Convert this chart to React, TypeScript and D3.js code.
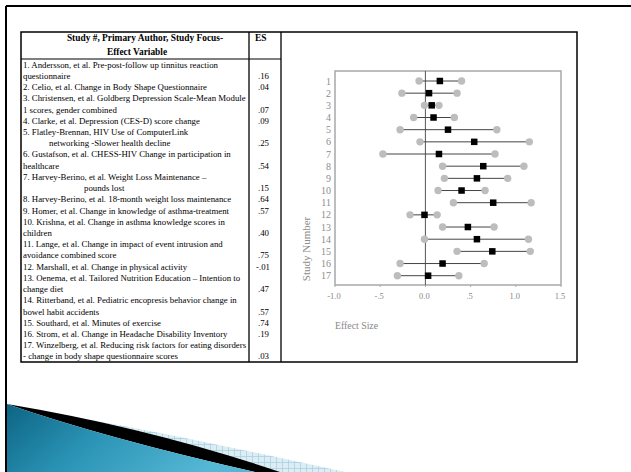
import React from "react";
import * as d3 from "d3";

// ---------- DATA ----------
const studyNumbers = ["1","2","3","4","5","6","7","8","9","10","11","12","13","14","15","16","17"];
const effectSizes = [0.16, 0.04, 0.07, 0.09, 0.25, 0.54, 0.15, 0.64, 0.57, 0.40, 0.75, -0.01, 0.47, 0.57, 0.74, 0.19, 0.03];
const ciLower = [-0.07, -0.26, -0.01, -0.13, -0.28, -0.06, -0.47, 0.19, 0.21, 0.14, 0.31, -0.17, 0.19, -0.01, 0.35, -0.28, -0.31];
const ciUpper = [0.40, 0.35, 0.15, 0.32, 0.79, 1.15, 0.77, 1.09, 0.91, 0.66, 1.17, 0.13, 0.76, 1.14, 1.16, 0.65, 0.37];
const esLabels = [".16", ".04", ".07", ".09", ".25", ".54", ".15", ".64", ".57", ".40", ".75", "-.01", ".47", ".57", ".74", ".19", ".03"];
// "\t" prefix marks an indented continuation line
const studyLines: string[][] = [
  ["1. Andersson, et al. Pre-post-follow up tinnitus reaction", "questionnaire"],
  ["2. Celio, et al. Change in Body Shape Questionnaire"],
  ["3. Christensen, et al. Goldberg Depression Scale-Mean Module", "1 scores, gender combined"],
  ["4. Clarke, et al. Depression (CES-D) score change"],
  ["5. Flatley-Brennan, HIV Use of ComputerLink", "\tnetworking -Slower health decline"],
  ["6. Gustafson, et al. CHESS-HIV Change in participation in", "healthcare"],
  ["7. Harvey-Berino, et al. Weight Loss Maintenance –", "\t\tpounds lost"],
  ["8. Harvey-Berino, et al. 18-month weight loss maintenance"],
  ["9. Homer, et al. Change in knowledge of asthma-treatment"],
  ["10. Krishna, et al. Change in asthma knowledge scores in", "children"],
  ["11. Lange, et al. Change in impact of event intrusion and", "avoidance combined score"],
  ["12. Marshall, et al. Change in physical activity"],
  ["13. Oenema, et al. Tailored Nutrition Education – Intention to", "change diet"],
  ["14. Ritterband, et al. Pediatric encopresis behavior change in", "bowel habit accidents"],
  ["15. Southard, et al. Minutes of exercise"],
  ["16. Strom, et al. Change in Headache Disability Inventory"],
  ["17. Winzelberg, et al. Reducing risk factors for eating disorders", "- change in body shape questionnaire scores"],
];
const headerLines = ["Study #, Primary Author, Study Focus-", "Effect Variable"];
const esHeader = "ES";
const xTickValues = [-1, -0.5, 0, 0.5, 1, 1.5];
const xTickLabels = ["-1.0", "-.5", "0.0", ".5", "1.0", "1.5"];
const yAxisTitle = "Study Number";
const xAxisTitle = "Effect Size";

// ---------- LAYOUT ----------
const W = 631, H = 472;
const serif = "'Liberation Serif', 'DejaVu Serif', serif";

export default function App() {
  const x = d3.scaleLinear().domain([-1, 1.5]).range([335, 561]);
  const y = d3.scalePoint<string>().domain(studyNumbers).range([81, 275.7]);

  const tableL = 21, tableR = 577, tableT = 32, tableB = 362;
  const div1 = 249, div2 = 281, headB = 59;
  const totalLines = studyLines.reduce((s, l) => s + l.length, 0);
  const lineH = (tableB - headB) / totalLines;

  const bodyText: JSX.Element[] = [];
  const esText: JSX.Element[] = [];
  let li = 0;
  studyLines.forEach((lines, si) => {
    lines.forEach((ln, k) => {
      const m = ln.match(/^\t*/);
      const lvl = m ? m[0].length : 0;
      const txt = ln.replace(/^\t*/, "");
      const indent = lvl === 1 ? 26 : lvl === 2 ? 61 : 0;
      const cy = headB + lineH * (li + 0.5);
      bodyText.push(
        <text key={`b${li}`} x={23 + indent} y={cy + 3} fontSize={8.8}>{txt}</text>
      );
      if (k === lines.length - 1) {
        esText.push(
          <text key={`e${si}`} x={esLabels[si].startsWith("-") ? 256 : 258} y={cy + 3} fontSize={8.8}>{esLabels[si]}</text>
        );
      }
      li++;
    });
  });

  const [x0, x1] = x.range();
  const frameT = 71, frameB = 285;

  return (
    <div style={{ position: "fixed", left: 0, top: 0 }}>
      <svg width={W} height={H} viewBox={`0 0 ${W} ${H}`} style={{ display: "block", background: "#fff" }}>
        <defs>
          <linearGradient id="blueGrad" x1="0" y1="0" x2="1" y2="0.3">
            <stop offset="0" stopColor="#0d6483" />
            <stop offset="0.45" stopColor="#2a93b5" />
            <stop offset="1" stopColor="#55b7d5" />
          </linearGradient>
          <pattern id="hatch" width="6" height="6" patternUnits="userSpaceOnUse">
            <rect width="6" height="6" fill="#dcedf4" />
            <path d="M0 0.5H6M0.5 0V6" stroke="#a9d0e2" strokeWidth="0.8" />
          </pattern>
        </defs>

        {/* slide frame */}
        <line x1={6} y1={6} x2={W} y2={6} stroke="#000" strokeWidth={2} />
        <line x1={6} y1={6} x2={6} y2={H} stroke="#000" strokeWidth={2} />

        {/* bottom-left swoosh */}
        <path d={`M20 407 Q 175 434 345 472 L 270 472 Q 150 434 20 407 Z`} fill="url(#hatch)" />
        <path d={`M7 404 Q 150 428 280 472 L 255 472 Q 105 438 7 404 Z`} fill="#000" />
        <path d={`M7 404 Q 105 438 255 472 L 7 472 Z`} fill="url(#blueGrad)" />

        {/* table frame */}
        <rect x={tableL} y={tableT} width={tableR - tableL} height={tableB - tableT} fill="none" stroke="#000" strokeWidth={1.5} />
        <line x1={div1} y1={tableT} x2={div1} y2={tableB} stroke="#000" strokeWidth={1.3} />
        <line x1={div2} y1={tableT} x2={div2} y2={tableB} stroke="#000" strokeWidth={1.3} />
        <line x1={tableL} y1={headB} x2={div2} y2={headB} stroke="#000" strokeWidth={1.2} />

        <g fontFamily={serif} fill="#000">
          <text x={145} y={41} fontSize={9.4} fontWeight="bold" textAnchor="middle">{headerLines[0]}</text>
          <text x={137} y={54.5} fontSize={9.4} fontWeight="bold" textAnchor="middle">{headerLines[1]}</text>
          <text x={255} y={41} fontSize={9.4} fontWeight="bold">{esHeader}</text>
          {bodyText}
          {esText}
        </g>

        {/* forest plot */}
        <rect x={x0} y={frameT} width={x1 - x0} height={frameB - frameT} fill="none" stroke="#a8a8a8" strokeWidth={1.5} />
        <line x1={x(0)} y1={frameT} x2={x(0)} y2={frameB} stroke="#555" strokeWidth={1} />
        {xTickValues.map((v, i) => (
          <g key={`t${i}`}>
            <line x1={x(v)} y1={frameB} x2={x(v)} y2={frameB + 2} stroke="#a8a8a8" strokeWidth={1} />
            <text x={x(v) - 1} y={299} fontSize={8.5} fill="#888" fontFamily={serif} textAnchor="middle">{xTickLabels[i]}</text>
          </g>
        ))}
        {studyNumbers.map((s, i) => {
          const cy = y(s) as number;
          return (
            <g key={`r${i}`}>
              <text x={331} y={cy + 3.5} fontSize={10} fill="#8c8c8c" fontFamily={serif} textAnchor="end">{s}</text>
              <line x1={x(ciLower[i])} y1={cy} x2={x(ciUpper[i])} y2={cy} stroke="#444" strokeWidth={1} />
              <circle cx={x(ciLower[i])} cy={cy} r={3.7} fill="#bdbdbd" />
              <circle cx={x(ciUpper[i])} cy={cy} r={3.7} fill="#bdbdbd" />
              <rect x={x(effectSizes[i]) - 3.25} y={cy - 3.25} width={6.5} height={6.5} fill="#000" />
            </g>
          );
        })}
        <text transform="translate(310,249) rotate(-90)" fontSize={11} fill="#8c8c8c" fontFamily={serif} textAnchor="middle">{yAxisTitle}</text>
        <text x={335} y={329} fontSize={9.8} fill="#888" fontFamily={serif}>{xAxisTitle}</text>
      </svg>
    </div>
  );
}
